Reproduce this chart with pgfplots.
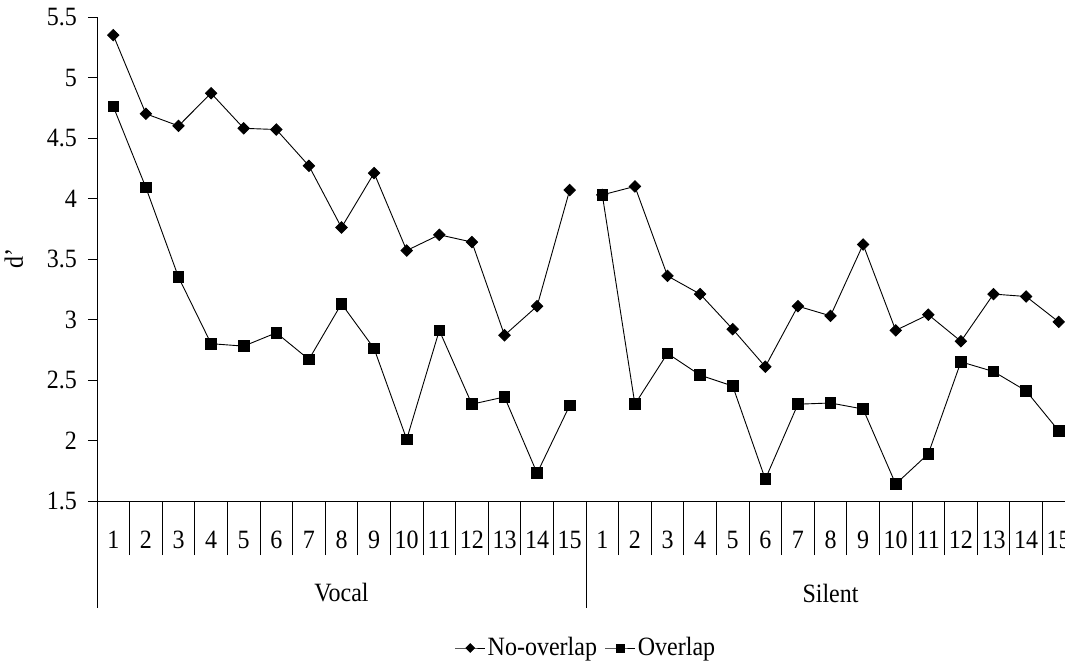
\documentclass[border=0pt]{standalone}
\usepackage{fontspec}
\setmainfont{Liberation Serif}
\usepackage{graphicx}
\usepackage{pgfplots}
\pgfplotsset{compat=1.18}
\newcommand\T[1]{\scalebox{1}[1.1]{#1}}
\begin{document}
\fontsize{24}{28}\selectfont
\begin{tikzpicture}
\begin{axis}[
  at={(97pt,165pt)}, anchor=south west,
  scale only axis, width=978pt, height=484pt,
  xmin=-0.5, xmax=29.5, ymin=1.5, ymax=5.5,
  clip=false,
  axis x line*=bottom, axis y line*=left,
  axis line style={-, line width=0.8pt, black},
  tick align=outside,
  major tick length=9pt,
  minor tick length=54pt,
  tick style={black, line width=0.8pt},
  major x tick style={draw=none},
  ytick={1.5,2,2.5,3,3.5,4,4.5,5,5.5},
  yticklabels={\T{1.5},\T{2},\T{2.5},\T{3},\T{3.5},\T{4},\T{4.5},\T{5},\T{5.5}},
  xtick={0,...,29},
  xticklabels={\T{1},\T{2},\T{3},\T{4},\T{5},\T{6},\T{7},\T{8},\T{9},\T{10},\T{11},\T{12},\T{13},\T{14},\T{15},\T{1},\T{2},\T{3},\T{4},\T{5},\T{6},\T{7},\T{8},\T{9},\T{10},\T{11},\T{12},\T{13},\T{14},\T{15}},
  minor xtick={-0.5,0.5,...,29.5},
  xticklabel style={anchor=center, yshift=-30pt, inner sep=0pt},
  yticklabel style={xshift=-3pt},
  ylabel={\T{d'}},
  ylabel style={at={(axis description cs:-0.085,0.5)}, anchor=center},
  legend columns=2,
  legend style={at={(axis description cs:0.5,0)}, anchor=center, yshift=-147pt,
    draw=none, fill=none, font=\fontsize{24}{28}\selectfont,
    /tikz/every even column/.style={column sep=6pt},
    legend cell align=left},
  legend image code/.code={\draw[mark repeat=2,mark phase=2, every mark/.append style={scale=0.75}] plot coordinates {(0pt,0pt) (15pt,0pt) (30pt,0pt)};},
]
\addplot[black, line width=0.9pt, mark=square*, mark size=4pt, mark options={rotate=45, solid}]
  coordinates {(0,5.35) (1,4.70) (2,4.60) (3,4.87) (4,4.58) (5,4.57) (6,4.27) (7,3.76) (8,4.21) (9,3.57) (10,3.70) (11,3.64) (12,2.87) (13,3.11) (14,4.07)};
\addlegendentry{\T{No-overlap}}
\addplot[black, line width=0.9pt, mark=square*, mark size=5.3pt, mark options={solid}]
  coordinates {(0,4.76) (1,4.09) (2,3.35) (3,2.80) (4,2.78) (5,2.89) (6,2.67) (7,3.13) (8,2.76) (9,2.01) (10,2.91) (11,2.30) (12,2.36) (13,1.73) (14,2.29)};
\addlegendentry{\T{Overlap}}
\addplot[black, line width=0.9pt, mark=square*, mark size=4pt, mark options={rotate=45, solid}, forget plot]
  coordinates {(15,4.03) (16,4.10) (17,3.36) (18,3.21) (19,2.92) (20,2.61) (21,3.11) (22,3.03) (23,3.62) (24,2.91) (25,3.04) (26,2.82) (27,3.21) (28,3.19) (29,2.98)};
\addplot[black, line width=0.9pt, mark=square*, mark size=5.3pt, mark options={solid}, forget plot]
  coordinates {(15,4.03) (16,2.30) (17,2.72) (18,2.54) (19,2.45) (20,1.68) (21,2.30) (22,2.31) (23,2.26) (24,1.64) (25,1.89) (26,2.65) (27,2.57) (28,2.41) (29,2.08)};
\draw[black, line width=0.8pt] (axis cs:-0.5,1.5) -- ++(0pt,-107pt);
\draw[black, line width=0.8pt] (axis cs:14.5,1.5) -- ++(0pt,-107pt);
\draw[black, line width=0.8pt] (axis cs:29.5,1.5) -- ++(0pt,-107pt);
\node at (axis cs:7,1.5) [yshift=-92pt] {\T{Vocal}};
\node at (axis cs:22,1.5) [yshift=-92pt] {\T{Silent}};
\end{axis}
\pgfresetboundingbox
\path[use as bounding box] (0pt,0pt) rectangle (1065pt,666pt);
\end{tikzpicture}
\end{document}
